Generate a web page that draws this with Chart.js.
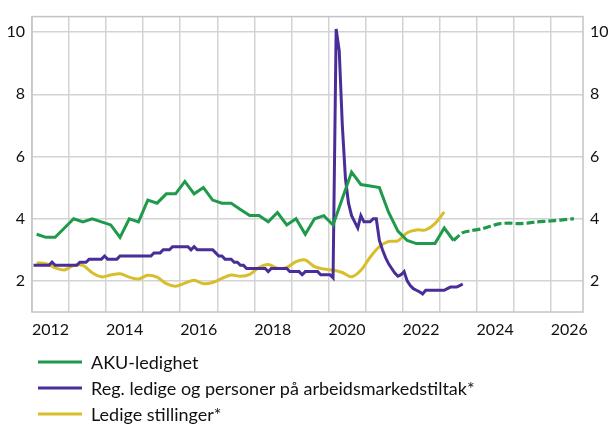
<!DOCTYPE html>
<html><head><meta charset="utf-8">
<script src="https://cdn.jsdelivr.net/npm/chart.js@4.4.1/dist/chart.umd.min.js"></script>
<style>html,body{margin:0;padding:0;background:#fff;}#wrap{width:613px;height:427px;position:relative;}canvas{display:block;}</style>
</head><body><div id="wrap"><canvas id="c" width="613" height="427" style="width:613px;height:427px"></canvas></div>
<script>
// ---- data ----
const START_YEAR = 2012;
// AKU-ledighet, quarterly from 2012Q1 to 2023Q2
const akuValues = [
  3.5, 3.4, 3.4, 3.7,
  4.0, 3.9, 4.0, 3.9,
  3.8, 3.4, 4.0, 3.9,
  4.6, 4.5, 4.8, 4.8,
  5.2, 4.8, 5.0, 4.6,
  4.5, 4.5, 4.3, 4.1,
  4.1, 3.9, 4.2, 3.8,
  4.0, 3.5, 4.0, 4.1,
  3.8, 4.65, 5.5, 5.1,
  5.05, 5.0, 4.2, 3.6,
  3.3, 3.2, 3.2, 3.2,
  3.7, 3.3
];
// AKU forecast, quarterly from 2023Q2 to 2026Q3
const akuForecastStart = 45;
const akuForecast = [3.3, 3.55, 3.62, 3.67, 3.76, 3.84, 3.86, 3.84, 3.86, 3.9, 3.92, 3.94, 3.97, 4.0];
// Reg. ledige og personer på arbeidsmarkedstiltak, monthly from Jan 2012
const regLedige = [
  2.5,2.5,2.5,2.5,2.5,2.5,2.6,2.5,2.5,2.5,2.5,2.5,
  2.5,2.5,2.5,2.6,2.6,2.6,2.7,2.7,2.7,2.7,2.7,2.8,
  2.7,2.7,2.7,2.7,2.8,2.8,2.8,2.8,2.8,2.8,2.8,2.8,
  2.8,2.8,2.8,2.9,2.9,2.9,3.0,3.0,3.0,3.1,3.1,3.1,
  3.1,3.1,3.1,3.0,3.1,3.0,3.0,3.0,3.0,3.0,3.0,2.9,
  2.8,2.8,2.7,2.7,2.7,2.6,2.6,2.5,2.5,2.4,2.4,2.4,
  2.4,2.4,2.4,2.4,2.3,2.4,2.4,2.4,2.4,2.4,2.4,2.3,
  2.3,2.3,2.3,2.2,2.3,2.3,2.3,2.3,2.3,2.2,2.2,2.2,
  2.2,2.1,10.1,9.4,7.0,5.3,4.5,4.1,3.9,3.7,4.1,3.9,
  3.9,3.9,4.0,4.0,3.3,3.0,2.75,2.55,2.4,2.25,2.15,2.2,
  2.3,2.0,1.85,1.75,1.7,1.65,1.58,1.7,1.7,1.7,1.7,1.7,
  1.7,1.7,1.75,1.8,1.8,1.8,1.85,1.9
];
// Ledige stillinger, quarterly from 2012Q1
const ledigeStillinger = [
  2.58, 2.55, 2.42, 2.35,
  2.50, 2.50, 2.26, 2.13,
  2.19, 2.23, 2.12, 2.06,
  2.18, 2.12, 1.91, 1.83,
  1.93, 2.02, 1.91, 1.95,
  2.08, 2.19, 2.15, 2.21,
  2.43, 2.53, 2.41, 2.43,
  2.62, 2.67, 2.46, 2.38,
  2.34, 2.27, 2.13, 2.34,
  2.76, 3.1, 3.27, 3.29,
  3.55, 3.64, 3.64, 3.84,
  4.22
];
const yTicks = [2, 4, 6, 8, 10];
const yearTicks = [2012,2013,2014,2015,2016,2017,2018,2019,2020,2021,2022,2023,2024,2025,2026];
const legendLabels = ['AKU-ledighet', 'Reg. ledige og personer på arbeidsmarkedstiltak*', 'Ledige stillinger*'];

const GREEN = '#1f9a4b', PURPLE = '#4a2e98', YELLOW = '#d8bd2c';
const FONT = 'Lato, "Open Sans", sans-serif';

const quarterly = (arr, start=0) => arr.map((v,i)=>({x: START_YEAR + (start+i+0.5)/4, y: v}));
const monthly = (arr) => arr.map((v,i)=>({x: START_YEAR + (i+0.5)/12, y: v}));

const frameAndLegend = {
  id: 'frameAndLegend',
  afterDraw(chart) {
    const {ctx, chartArea: a} = chart;
    ctx.save();
    ctx.strokeStyle = '#c4c4c4';
    ctx.lineWidth = 1.5;
    ctx.strokeRect(a.left, a.top, a.right - a.left, a.bottom - a.top);
    const colors = [GREEN, PURPLE, YELLOW];
    const rows = [362, 388, 414];
    ctx.font = '18px ' + FONT;
    ctx.textBaseline = 'middle';
    ctx.fillStyle = '#111';
    legendLabels.forEach((lab, i) => {
      ctx.strokeStyle = colors[i];
      ctx.lineWidth = 3;
      ctx.beginPath();
      ctx.moveTo(38, rows[i]);
      ctx.lineTo(82, rows[i]);
      ctx.stroke();
      ctx.fillText(lab, 91, rows[i] + 1);
    });
    ctx.restore();
  }
};

const yAxisCommon = {
  type: 'linear', min: 1, max: 10.5,
  afterBuildTicks: s => { s.ticks = yTicks.map(v => ({value: v})); },
  ticks: { color: '#111', font: {family: FONT, size: 16}, padding: 7 },
};

new Chart(document.getElementById('c'), {
  type: 'line',
  data: {
    datasets: [
      { data: quarterly(akuValues), borderColor: GREEN, borderWidth: 3, pointRadius: 0, tension: 0 },
      { data: quarterly(akuForecast, akuForecastStart), borderColor: GREEN, borderWidth: 3.2, borderDash: [8, 3], pointRadius: 0, tension: 0.2 },
      { data: monthly(regLedige), borderColor: PURPLE, borderWidth: 3, pointRadius: 0, tension: 0 },
      { data: quarterly(ledigeStillinger), borderColor: YELLOW, borderWidth: 3, pointRadius: 0, tension: 0.3 },
    ]
  },
  options: {
    responsive: false, animation: false, devicePixelRatio: 1,
    layout: { padding: { top: 12, left: 0, right: 0, bottom: 0 } },
    plugins: { legend: { display: false }, tooltip: { enabled: false } },
    scales: {
      x: {
        type: 'linear', min: 2012, max: 2026.87,
        afterBuildTicks: s => { s.ticks = yearTicks.map(v => ({value: v})); },
        afterFit: s => { s.height = 115; },
        grid: { color: '#d3d3d3', lineWidth: 1.5, drawTicks: false },
        border: { display: false },
        ticks: {
          autoSkip: false, maxRotation: 0, padding: 8, labelOffset: 18.5,
          color: '#111', font: {family: FONT, size: 16},
          callback: v => (v % 2 === 0 ? String(v) : '')
        }
      },
      y: Object.assign({}, yAxisCommon, {
        position: 'left',
        afterFit: s => { s.width = 32; },
        grid: { color: '#d3d3d3', lineWidth: 1.5, drawTicks: false },
        border: { display: false },
      }),
      y2: Object.assign({}, yAxisCommon, {
        position: 'right',
        afterFit: s => { s.width = 30; },
        grid: { display: false, drawTicks: false },
        border: { display: false },
      })
    }
  },
  plugins: [frameAndLegend]
});
</script>
</body></html>
